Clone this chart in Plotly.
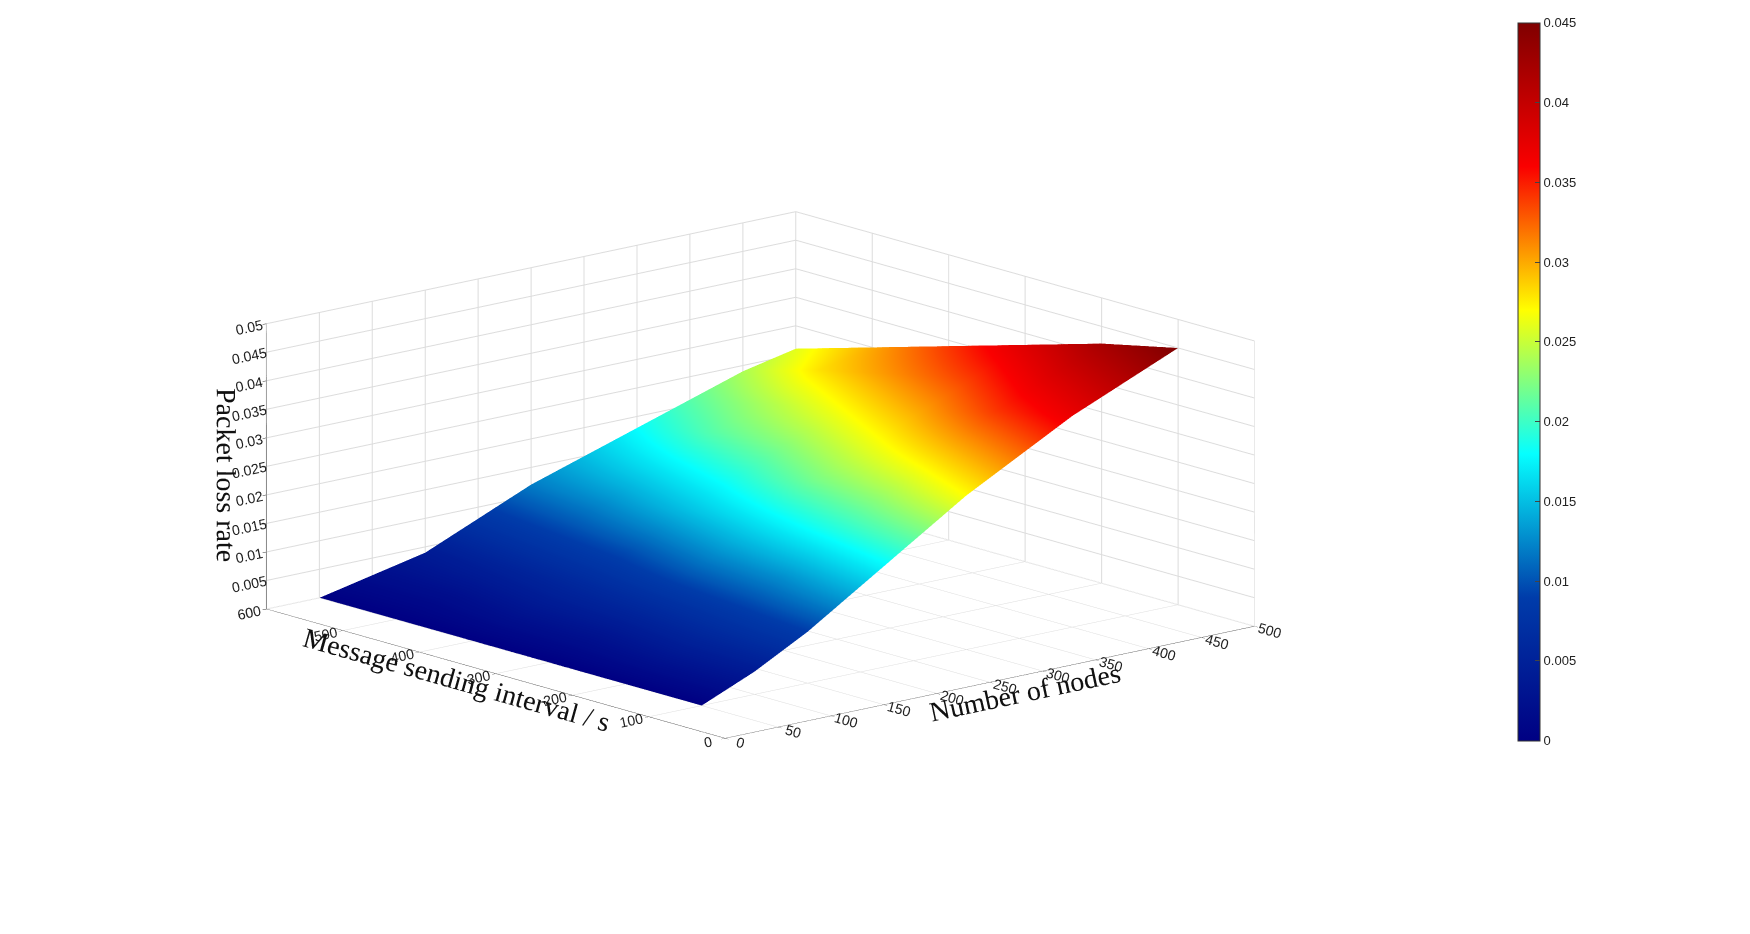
import plotly.graph_objects as go

nodes = [50, 100, 150, 200, 250, 300, 350, 400, 450, 500]
intervals = [100, 200, 300, 400, 500, 600]
loss = [
    [0, 0.004, 0.009, 0.015, 0.021, 0.027, 0.032, 0.037, 0.041, 0.045],
    [0, 0.004, 0.008, 0.013, 0.019, 0.024, 0.029, 0.034, 0.038, 0.042],
    [0, 0.003, 0.007, 0.012, 0.017, 0.022, 0.026, 0.030, 0.034, 0.038],
    [0, 0.003, 0.006, 0.010, 0.015, 0.019, 0.023, 0.027, 0.031, 0.034],
    [0, 0.002, 0.005, 0.009, 0.013, 0.017, 0.021, 0.024, 0.028, 0.030],
    [0, 0.002, 0.004, 0.008, 0.012, 0.015, 0.018, 0.021, 0.024, 0.026],
]
cbar_ticks = [0, 0.005, 0.01, 0.015, 0.02, 0.025, 0.03, 0.035, 0.04, 0.045]

fig = go.Figure(go.Surface(
    x=nodes, y=intervals, z=loss, colorscale="Jet", cmin=0, cmax=0.045,
    lighting=dict(ambient=1, diffuse=0, specular=0, roughness=1, fresnel=0),
    showscale=True,
    colorbar=dict(x=0.857, xanchor="left", y=0.995, yanchor="top", len=0.79, thickness=22,
                  tickvals=cbar_ticks, ticktext=[str(v) for v in cbar_ticks], ticks="inside",
                  tickfont=dict(family="Liberation Sans", size=13, color="#222"),
                  outlinecolor="#333", outlinewidth=1),
))
ax = dict(showbackground=False, gridcolor="#dcdcdc", linecolor="#333", showline=True,
          tickfont=dict(family="Liberation Sans", size=13, color="#222"), ticks="outside",
          tickcolor="#333")
tf = dict(family="Liberation Serif", size=28, color="#111")
fig.update_layout(
    width=1750, height=934, paper_bgcolor="white", margin=dict(l=0, r=0, t=0, b=0),
    scene=dict(
        xaxis=dict(ax, title=dict(text="Number of nodes", font=tf), range=[0, 500], dtick=50),
        yaxis=dict(ax, title=dict(text="Message sending interval / s", font=tf), range=[0, 600], dtick=100),
        zaxis=dict(ax, title=dict(text="Packet loss rate", font=tf), range=[0, 0.05], dtick=0.005),
        aspectmode="manual", aspectratio=dict(x=1.5, y=1.5, z=0.63),
        camera=dict(eye=dict(x=-1.3, y=-1.5, z=0.5), center=dict(x=0, y=0, z=0),
                    projection=dict(type="orthographic")),
        domain=dict(x=[0, 0.86], y=[0, 1]),
    ),
)
fig.write_html("out.html")
